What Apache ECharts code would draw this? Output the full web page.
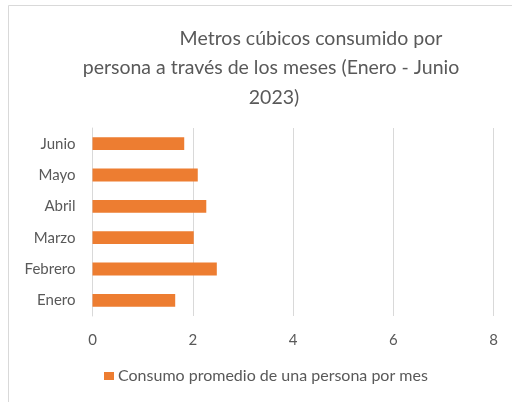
<!DOCTYPE html>
<html><head><meta charset="utf-8">
<script src="https://cdn.jsdelivr.net/npm/echarts@6/dist/echarts.min.js"></script>
<style>html,body{margin:0;padding:0;background:#fff}#c{width:512px;height:402px}</style>
</head><body><div id="c"></div>
<script>
var categories = ['Enero','Febrero','Marzo','Abril','Mayo','Junio'];
var values = [1.65, 2.48, 2.02, 2.27, 2.10, 1.83];
var xTicks = [0, 2, 4, 6, 8];
var seriesName = 'Consumo promedio de una persona por mes';
var titleLines = ['Metros cúbicos consumido por', 'persona a través de los meses (Enero - Junio', '2023)'];

var FONT = 'Lato';
var GRAY = '#595959';
var chart = echarts.init(document.getElementById('c'), null, {renderer:'canvas'});
var tStyle = {color: GRAY, fontSize: 19.5, fontWeight: 'normal', fontFamily: FONT};
chart.setOption({
  animation: false,
  backgroundColor: '#fff',
  graphic: [{type:'rect', shape:{x:8.5, y:5.5, width:540, height:420}, style:{fill:'none', stroke:'#D9D9D9', lineWidth:1}, silent:true}],
  title: [
    {text: titleLines[0], left: 311, top: 29, textAlign: 'center', padding: 0, textStyle: tStyle},
    {text: titleLines[1], left: 271, top: 58, textAlign: 'center', padding: 0, textStyle: tStyle},
    {text: titleLines[2], left: 274, top: 88, textAlign: 'center', padding: 0, textStyle: tStyle}
  ],
  grid: {left: 92.5, right: 18.5, top: 128, bottom: 86, containLabel: false},
  legend: {
    data: [seriesName], left: 104, top: 368, itemWidth: 10, itemHeight: 8, itemGap: 4, padding: 0,
    icon: 'rect',
    textStyle: {color: GRAY, fontSize: 16, fontFamily: FONT, padding:[0,0,0,-1]}
  },
  xAxis: {
    type: 'value', min: xTicks[0], max: xTicks[xTicks.length-1], interval: 2,
    axisLine: {show: false}, axisTick: {show: false},
    splitLine: {show: true, lineStyle: {color: '#D9D9D9', width: 1}},
    axisLabel: {color: GRAY, fontSize: 15, fontFamily: FONT, margin: 17}
  },
  yAxis: {
    type: 'category', data: categories,
    axisLine: {show: true, lineStyle: {color: '#D9D9D9'}}, axisTick: {show: false},
    axisLabel: {color: GRAY, fontSize: 15, fontFamily: FONT, margin: 17}
  },
  series: [{
    name: seriesName, type: 'bar', data: values, barCategoryGap: '59%',
    itemStyle: {color: '#ED7D31'}
  }]
});
</script></body></html>
